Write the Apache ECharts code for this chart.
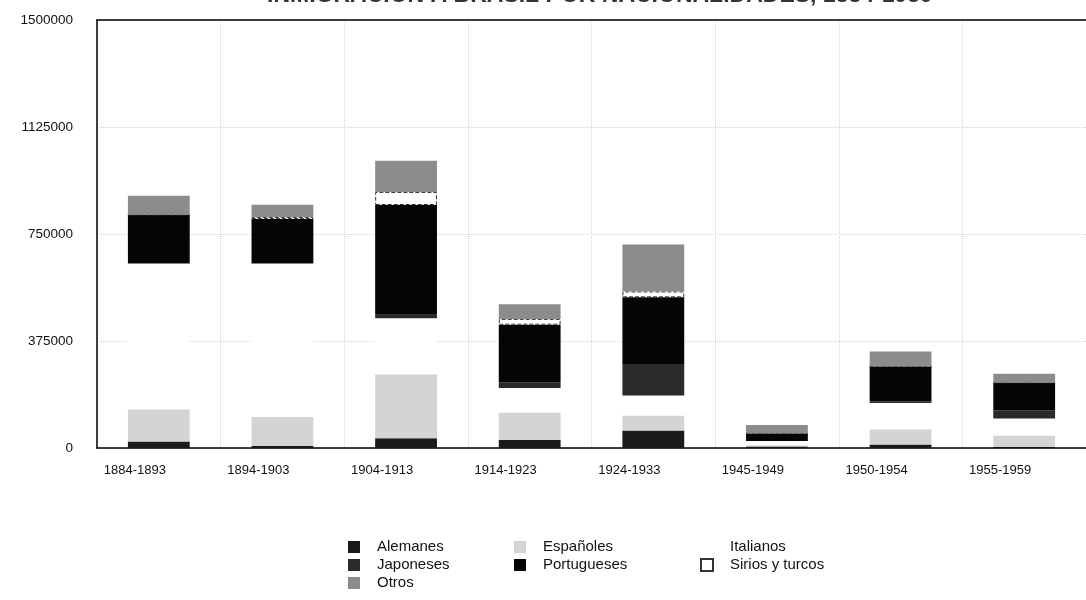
<!DOCTYPE html>
<html>
<head>
<meta charset="utf-8">
<script src="https://cdn.jsdelivr.net/npm/echarts@6/dist/echarts.min.js"></script>
<style>
html,body{margin:0;padding:0;background:#fff;}
#chart{width:1086px;height:600px;}
</style>
</head>
<body>
<div id="chart"></div>
<script>
const categories = ['1884-1893','1894-1903','1904-1913','1914-1923','1924-1933','1945-1949','1950-1954','1955-1959'];
const alemanes    = [22778, 6698, 33859, 29339, 61723, 5188, 12204, 4633];
const espanoles   = [113116, 102142, 224672, 94779, 52405, 4092, 53357, 38819];
const italianos   = [510533, 537784, 196521, 86320, 70177, 15312, 91931, 59785];
const japoneses   = [0, 0, 11868, 20398, 110191, 12, 5447, 28819];
const portugueses = [170621, 155542, 384672, 201252, 233650, 26268, 123082, 96811];
const sirios      = [96, 7124, 45803, 20400, 20400, 0, 0, 0];
const otros       = [66524, 42820, 109222, 51493, 164586, 29552, 51911, 31494];
const yTicks = [0, 375000, 750000, 1125000, 1500000];

const FONT = '"Liberation Sans", Arial, sans-serif';
const chart = echarts.init(document.getElementById('chart'), null, {renderer:'canvas'});

function bar(name, data, style) {
  return {name, type:'bar', stack:'total', data, barWidth:'50%', itemStyle:style, emphasis:{disabled:true}};
}

const legendBase = {
  orient:'vertical', top:533, itemWidth:12, itemHeight:12, itemGap:0,
  icon:'rect',
  textStyle:{fontFamily:FONT, fontSize:15, color:'#111', lineHeight:18, padding:[0,0,0,12]}
};

chart.setOption({
  animation:false,
  backgroundColor:'#fff',
  title:{
    text:'INMIGRACIÓN A BRASIL POR NACIONALIDADES, 1884-1959',
    left:262, top:-21,
    textStyle:{fontFamily:FONT, fontSize:23, fontWeight:'bold', color:'#333'}
  },
  grid:{left:97, right:-14, top:20, bottom:152},
  legend:[
    Object.assign({left:343, data:['Alemanes','Japoneses','Otros']}, legendBase),
    Object.assign({left:509, data:['Españoles','Portugueses']}, legendBase),
    Object.assign({left:695, data:['Italianos','Sirios y turcos']}, legendBase)
  ],
  xAxis:[{
    type:'category', data:categories,
    axisLine:{lineStyle:{color:'#000', width:1.5}},
    axisTick:{show:false},
    splitLine:{show:true, interval:0, lineStyle:{color:'#d6d6d6', type:'dotted'}},
    axisLabel:{fontFamily:FONT, fontSize:13, color:'#111', margin:16, interval:0, padding:[0,48,0,0]}
  },{
    type:'category', data:categories, position:'top',
    axisLine:{show:true, lineStyle:{color:'#000', width:1.5}},
    axisTick:{show:false}, axisLabel:{show:false}, splitLine:{show:false}
  }],
  yAxis:{
    type:'value', min:yTicks[0], max:yTicks[yTicks.length-1], interval:yTicks[1]-yTicks[0],
    axisLine:{show:true, lineStyle:{color:'#000', width:1.5}},
    axisTick:{show:false},
    splitLine:{show:true, lineStyle:{color:'#d6d6d6', type:'dotted'}},
    axisLabel:{fontFamily:FONT, fontSize:13.5, color:'#111', margin:24, formatter:v => String(v)}
  },
  series:[
    bar('Alemanes', alemanes, {color:'#1a1a1a'}),
    bar('Españoles', espanoles, {color:'#d4d4d4'}),
    bar('Italianos', italianos, {color:'#ffffff'}),
    bar('Japoneses', japoneses, {color:'#2a2a2a'}),
    bar('Portugueses', portugueses, {color:'#050505'}),
    bar('Sirios y turcos', sirios, {color:'#ffffff', borderColor:'#333', borderWidth:1, borderType:'dashed'}),
    bar('Otros', otros, {color:'#8c8c8c'})
  ]
});
</script>
</body>
</html>
